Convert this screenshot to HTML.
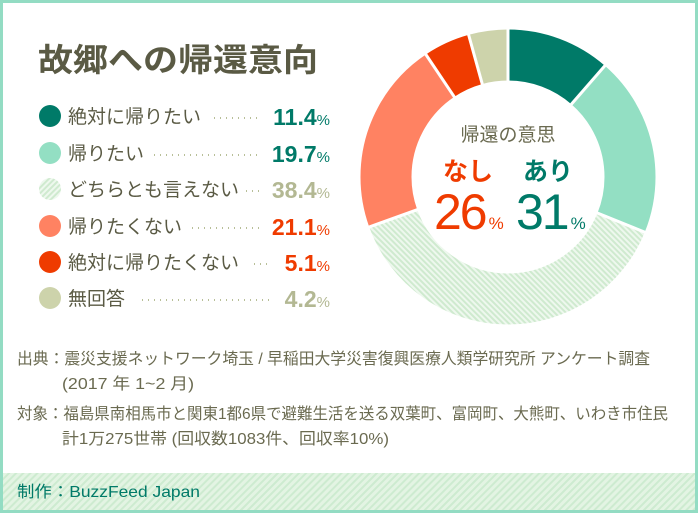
<!DOCTYPE html>
<html><head><meta charset="utf-8"><style>
body{margin:0;background:#fff;}
svg text{font-family:"Liberation Sans","Noto Sans CJK JP",sans-serif;}
</style></head><body>
<svg width="698" height="513" viewBox="0 0 698 513" xmlns="http://www.w3.org/2000/svg">
<defs>
<pattern id="h" width="4" height="4" patternUnits="userSpaceOnUse" patternTransform="rotate(45)">
<rect width="4" height="4" fill="#eef8ee"/><rect width="2" height="4" fill="#cfeacf"/></pattern>
<pattern id="f" width="5" height="5" patternUnits="userSpaceOnUse" patternTransform="rotate(45)">
<rect width="5" height="5" fill="#e3f4e3"/><rect width="2" height="5" fill="#cdebd0"/></pattern>
</defs>
<rect x="1.5" y="1.5" width="695" height="510" fill="#fff" stroke="#93dcc3" stroke-width="3"/>
<rect x="3" y="473" width="692" height="37" fill="url(#f)"/>
<text x="38" y="71" font-size="32" font-weight="bold" fill="#5a5a44" textLength="280" lengthAdjust="spacingAndGlyphs">故郷への帰還意向</text>
<g font-size="19" fill="#5a5a44">
<circle cx="50" cy="116" r="11" fill="#007a68"/><text x="68" y="123">絶対に帰りたい</text>
<circle cx="50" cy="153" r="11" fill="#93dfc3"/><text x="68" y="160">帰りたい</text>
<circle cx="50" cy="189" r="11" fill="url(#h)"/><text x="68" y="196">どちらとも言えない</text>
<circle cx="50" cy="226" r="11" fill="#ff8262"/><text x="68" y="233">帰りたくない</text>
<circle cx="50" cy="262" r="11" fill="#ef3b00"/><text x="68" y="269">絶対に帰りたくない</text>
<circle cx="50" cy="298" r="11" fill="#cdd3ab"/><text x="68" y="305">無回答</text>
</g>
<g stroke="#b8bf98" stroke-width="2" stroke-dasharray="1 5">
<line x1="214" y1="118" x2="260" y2="118"/>
<line x1="154" y1="155" x2="260" y2="155"/>
<line x1="246" y1="191" x2="262" y2="191"/>
<line x1="192" y1="228" x2="262" y2="228"/>
<line x1="254" y1="264" x2="270" y2="264"/>
<line x1="142" y1="300" x2="272" y2="300"/>
</g>
<g font-size="23" font-weight="bold" text-anchor="end">
<text x="330" y="125" fill="#007a68">11.4<tspan font-size="15" font-weight="normal">%</tspan></text>
<text x="330" y="162" fill="#007a68">19.7<tspan font-size="15" font-weight="normal">%</tspan></text>
<text x="330" y="198" fill="#b3b893">38.4<tspan font-size="15" font-weight="normal">%</tspan></text>
<text x="330" y="235" fill="#ef3b00">21.1<tspan font-size="15" font-weight="normal">%</tspan></text>
<text x="330" y="271" fill="#ef3b00">5.1<tspan font-size="15" font-weight="normal">%</tspan></text>
<text x="330" y="307" fill="#b3b893">4.2<tspan font-size="15" font-weight="normal">%</tspan></text>
</g>
<g transform="translate(508,177) rotate(-90)" fill="none" stroke-width="51">
<circle r="122" stroke="#007a68" stroke-dasharray="87.4 800" stroke-dashoffset="0"/>
<circle r="122" stroke="#93dfc3" stroke-dasharray="151 800" stroke-dashoffset="-87.4"/>
<circle r="122" stroke="url(#h)" stroke-dasharray="294.3 800" stroke-dashoffset="-238.4"/>
<circle r="122" stroke="#ff8262" stroke-dasharray="161.7 800" stroke-dashoffset="-532.7"/>
<circle r="122" stroke="#ef3b00" stroke-dasharray="39.1 800" stroke-dashoffset="-694.4"/>
<circle r="122" stroke="#cdd3ab" stroke-dasharray="33.1 800" stroke-dashoffset="-733.5"/>
</g>
<g transform="translate(508,177)" stroke="#fff" stroke-width="3">
<line x1="0" y1="-92" x2="0" y2="-152" transform="rotate(0)"/>
<line x1="0" y1="-92" x2="0" y2="-152" transform="rotate(41.04)"/>
<line x1="0" y1="-92" x2="0" y2="-152" transform="rotate(111.96)"/>
<line x1="0" y1="-92" x2="0" y2="-152" transform="rotate(250.2)"/>
<line x1="0" y1="-92" x2="0" y2="-152" transform="rotate(326.16)"/>
<line x1="0" y1="-92" x2="0" y2="-152" transform="rotate(344.52)"/>
</g>
<text x="508" y="141" font-size="19" text-anchor="middle" fill="#6a6a50">帰還の意思</text>
<text x="468" y="180" font-size="25" font-weight="bold" text-anchor="middle" fill="#ef3b00">なし</text>
<text x="548" y="180" font-size="25" font-weight="bold" text-anchor="middle" fill="#007a68">あり</text>
<text x="434" y="229" font-size="50" fill="#ef3b00" letter-spacing="-2">26<tspan font-size="17" dx="3">%</tspan></text>
<text x="516" y="229" font-size="50" fill="#007a68" letter-spacing="-2">31<tspan font-size="17" dx="3">%</tspan></text>
<g font-size="16" fill="#6a6a50">
<text x="17" y="364" textLength="633" lengthAdjust="spacingAndGlyphs">出典：震災支援ネットワーク埼玉 / 早稲田大学災害復興医療人類学研究所 アンケート調査</text>
<text x="62" y="389" textLength="132" lengthAdjust="spacingAndGlyphs">(2017 年 1~2 月)</text>
<text x="17" y="419" textLength="651" lengthAdjust="spacingAndGlyphs">対象：福島県南相馬市と関東1都6県で避難生活を送る双葉町、富岡町、大熊町、いわき市住民</text>
<text x="62" y="444" textLength="327" lengthAdjust="spacingAndGlyphs">計1万275世帯 (回収数1083件、回収率10%)</text>
</g>
<text x="17" y="497" font-size="16" fill="#007a68" textLength="183" lengthAdjust="spacingAndGlyphs">制作：BuzzFeed Japan</text>
</svg>
</body></html>
